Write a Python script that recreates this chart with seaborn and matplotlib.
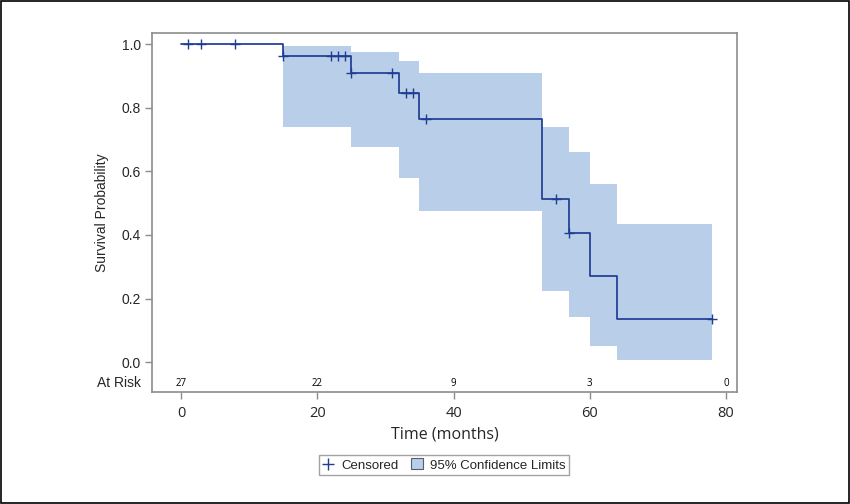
import matplotlib
matplotlib.use("Agg")
import matplotlib.pyplot as plt
import seaborn as sns
import pandas as pd
from matplotlib.lines import Line2D
from matplotlib.patches import Patch, Rectangle

# ---- data ----
step_times = [0, 15, 25, 32, 35, 53, 57, 60, 64, 78]
survival = [1.0, 0.962, 0.910, 0.845, 0.766, 0.512, 0.407, 0.271, 0.135, 0.135]

ci_times = [15, 25, 32, 35, 53, 57, 60, 64, 78]
ci_upper = [0.994, 0.976, 0.947, 0.908, 0.738, 0.660, 0.561, 0.434, 0.434]
ci_lower = [0.740, 0.677, 0.580, 0.476, 0.224, 0.142, 0.051, 0.007, 0.007]

censor_times = [1, 3, 8, 15, 22, 23, 24, 25, 31, 33, 34, 36, 55, 57, 78]
censor_surv = [1.0, 1.0, 1.0, 0.962, 0.962, 0.962, 0.962, 0.910, 0.910,
               0.845, 0.845, 0.766, 0.512, 0.407, 0.135]

risk_times = [0, 20, 40, 60, 80]
risk_counts = ["27", "22", "9", "3", "0"]

x_ticks = [0, 20, 40, 60, 80]
y_ticks = [0.0, 0.2, 0.4, 0.6, 0.8, 1.0]

# ---- style ----
sns.set_style("white")
plt.rcParams["font.family"] = ["Liberation Sans", "DejaVu Sans"]
seg_font = ["Open Sans", "DejaVu Sans"]

line_color = "#1f3c93"
band_color = "#b9cee8"
frame_color = "#8c8c8c"

fig = plt.figure(figsize=(8.5, 5.04), dpi=100)
ax = fig.add_axes([152 / 850, 1 - 392 / 504, (737 - 152) / 850, (392 - 33) / 504])

# confidence band
ax.fill_between(ci_times, ci_lower, ci_upper, step="post", color=band_color,
                linewidth=0, zorder=1)

# survival step curve
df = pd.DataFrame({"t": step_times, "s": survival})
sns.lineplot(data=df, x="t", y="s", drawstyle="steps-post", color=line_color,
             linewidth=1.25, ax=ax, zorder=3, estimator=None)

# censored marks
cdf = pd.DataFrame({"t": censor_times, "s": censor_surv})
sns.scatterplot(data=cdf, x="t", y="s", marker="+", s=50, color=line_color,
                linewidth=1.0, ax=ax, zorder=4)

# at risk row
risk_y = -0.066
for t, c in zip(risk_times, risk_counts):
    ax.text(t, risk_y, c, ha="center", va="center", fontsize=7, color="black",
            family=seg_font)
ax.text(-11 / 585, risk_y, "At Risk", transform=ax.get_yaxis_transform(),
        ha="right", va="center", fontsize=10)

ax.set_xlim(-4.25, 81.6)
ax.set_ylim(-0.094, 1.035)
ax.set_xticks(x_ticks)
ax.set_yticks(y_ticks)
ax.set_yticklabels([f"{v:.1f}" for v in y_ticks])
ax.tick_params(axis="both", which="major", direction="out", length=5, width=1,
               color=frame_color, labelsize=10, pad=3,
               bottom=True, left=True, top=False, right=False)
ax.tick_params(axis="x", labelsize=10.5, pad=5)
for lab in ax.get_xticklabels():
    lab.set_family(seg_font)
for sp in ax.spines.values():
    sp.set_color(frame_color)
    sp.set_linewidth(1.2)

ax.set_xlabel("Time (months)", fontsize=11.5, labelpad=4, family=seg_font)
ax.set_ylabel("Survival Probability", fontsize=10, labelpad=9)

# legend
handles = [
    Line2D([], [], marker="+", color=line_color, linestyle="none",
           markersize=8, markeredgewidth=1.0, label="Censored"),
    Patch(facecolor=band_color, edgecolor="#555f70", linewidth=0.8,
          label="95% Confidence Limits"),
]
leg = fig.legend(handles=handles, loc="center", ncol=2,
                 bbox_to_anchor=(444 / 850, 1 - 465 / 504), frameon=True,
                 fancybox=False, fontsize=9.5, handlelength=0.9,
                 handletextpad=0.5, columnspacing=1.0, borderpad=0.3,
                 handleheight=0.9)
leg.get_frame().set_edgecolor(frame_color)
leg.get_frame().set_linewidth(1.0)

# outer border
fig.patches.append(Rectangle((0.001, 0.001), 0.998, 0.997, transform=fig.transFigure,
                             fill=False, edgecolor="black", linewidth=1.2))

fig.savefig("out.png", dpi=100)
